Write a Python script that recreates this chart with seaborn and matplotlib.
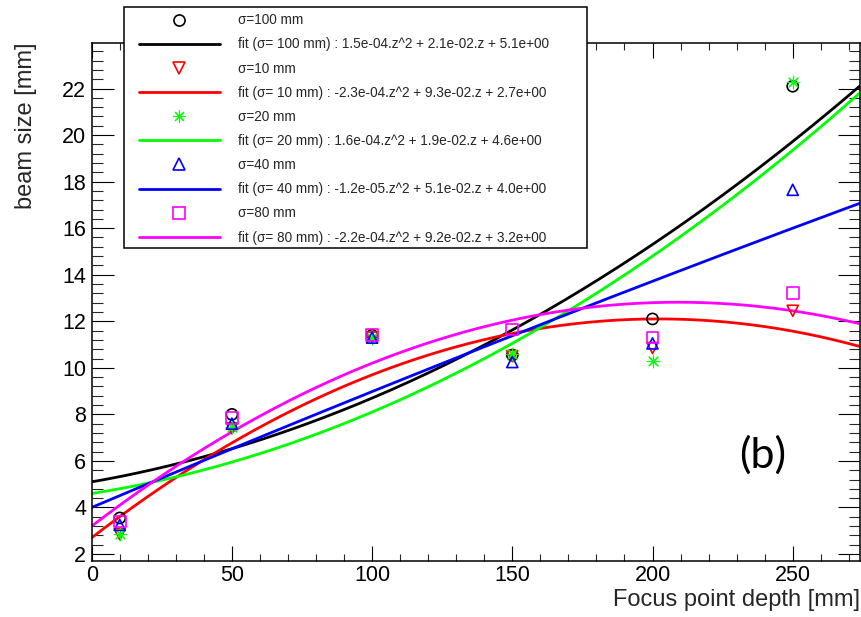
import numpy as np
import pandas as pd
import matplotlib
matplotlib.use("Agg")
import matplotlib.pyplot as plt
from matplotlib.lines import Line2D
from matplotlib.patches import Rectangle
from matplotlib.ticker import MultipleLocator
import seaborn as sns

# Measured beam size [mm] versus focus point depth [mm] for each sigma
depth = [10, 50, 100, 150, 200, 250]
size_s100 = [3.55, 8.0, 11.4, 10.55, 12.1, 22.1]
size_s10 = [2.85, 7.4, 11.3, 10.5, 10.85, 12.45]
size_s20 = [2.85, 7.45, 11.3, 10.6, 10.3, 22.3]
size_s40 = [3.25, 7.6, 11.3, 10.25, 11.05, 17.65]
size_s80 = [3.4, 7.85, 11.4, 11.65, 11.3, 13.2]

# Quadratic fit coefficients (a, b, c) of a.z^2 + b.z + c
fit_s100 = [1.5e-04, 2.1e-02, 5.1e+00]
fit_s10 = [-2.3e-04, 9.3e-02, 2.7e+00]
fit_s20 = [1.6e-04, 1.9e-02, 4.6e+00]
fit_s40 = [-1.2e-05, 5.1e-02, 4.0e+00]
fit_s80 = [-2.2e-04, 9.2e-02, 3.2e+00]

sigmas = ["100", "10", "20", "40", "80"]
colors = ["#000000", "#ff0000", "#00ff00", "#0000ff", "#ff00ff"]
markers = ["o", "v", (8, 2, 0), "^", "s"]
msizes = [8.0, 8.0, 9.0, 8.0, 8.5]
medges = [1.2, 1.2, 0.8, 1.2, 1.2]

series = [size_s100, size_s10, size_s20, size_s40, size_s80]
fits = [fit_s100, fit_s10, fit_s20, fit_s40, fit_s80]

x_min, x_max = 0, 274
y_min, y_max = 1.7, 23.97

sns.set_theme(style="white")
plt.rcParams["font.family"] = ["Liberation Sans", "DejaVu Sans"]

fig = plt.figure(figsize=(8.62, 6.17), dpi=100)
ax = fig.add_axes([91.7 / 862, 1 - 561 / 617, (860 - 91.7) / 862, (561 - 42.7) / 617])

z = np.linspace(x_min, x_max, 400)
handles, labels = [], []
for sig, vals, coef, col, mk, ms, mew in zip(sigmas, series, fits, colors,
                                             markers, msizes, medges):
    a, b, c = coef
    filled = not isinstance(mk, tuple)
    pts = pd.DataFrame({"depth": depth, "size": vals})
    sns.scatterplot(data=pts, x="depth", y="size", ax=ax, marker=mk, s=ms ** 2,
                    color=col, facecolor="none" if filled else col,
                    edgecolor=col, linewidth=mew, zorder=3)
    curve = pd.DataFrame({"depth": z, "size": a * z ** 2 + b * z + c})
    sns.lineplot(data=curve, x="depth", y="size", ax=ax, color=col,
                 linewidth=2.0, zorder=2)

    handles.append(Line2D([], [], linestyle="none", marker=mk, markersize=ms,
                          markerfacecolor="none", markeredgecolor=col,
                          markeredgewidth=mew))
    labels.append(f"\u03c3={sig} mm")
    handles.append(Line2D([], [], color=col, linewidth=2.0))
    labels.append(f"fit (\u03c3= {sig} mm) : {a:.1e}.z^2 + {b:.1e}.z + {c:.1e}")

ax.set_xlim(x_min, x_max)
ax.set_ylim(y_min, y_max)

ax.xaxis.set_major_locator(MultipleLocator(50))
ax.xaxis.set_minor_locator(MultipleLocator(10))
ax.yaxis.set_major_locator(MultipleLocator(2))
ax.yaxis.set_minor_locator(MultipleLocator(0.4))

ax.tick_params(axis="x", which="major", direction="in", length=10.8, width=0.8,
               top=True, bottom=True, labelsize=15.5, pad=3, colors="black")
ax.tick_params(axis="x", which="minor", direction="in", length=5.0, width=0.8,
               top=True, bottom=True)
ax.tick_params(axis="y", which="major", direction="in", length=16, width=0.8,
               left=True, right=True, labelsize=15.5, pad=4, colors="black")
ax.tick_params(axis="y", which="minor", direction="in", length=8, width=0.8,
               left=True, right=True)

for sp in ax.spines.values():
    sp.set_color("black")
    sp.set_linewidth(1.1)

ax.set_xlabel("Focus point depth [mm]", fontsize=17.0, loc="right")
ax.set_ylabel("beam size [mm]", fontsize=17.0, loc="top")
ax.xaxis.set_label_coords(1.0, -0.054)
ax.yaxis.set_label_coords(-0.071, 1.0)

# Legend box
fig.add_artist(Rectangle((124 / 862, 1 - 248 / 617), (587 - 124) / 862, (248 - 7.3) / 617,
                         transform=fig.transFigure, facecolor="white",
                         edgecolor="black", linewidth=1.1, zorder=3))
fig.legend(handles, labels, loc="upper left",
           bbox_to_anchor=(139 / 862, 1 - 13.3 / 617), bbox_transform=fig.transFigure,
           frameon=False, fontsize=9.8, handlelength=5.95, handletextpad=1.3,
           labelspacing=0.745, borderpad=0, borderaxespad=0, numpoints=1)

fig.text(763 / 862, 1 - 455 / 617, "(b)", fontsize=31, family="Lato",
         ha="center", va="center", color="black")

fig.savefig("out.png", dpi=100)
